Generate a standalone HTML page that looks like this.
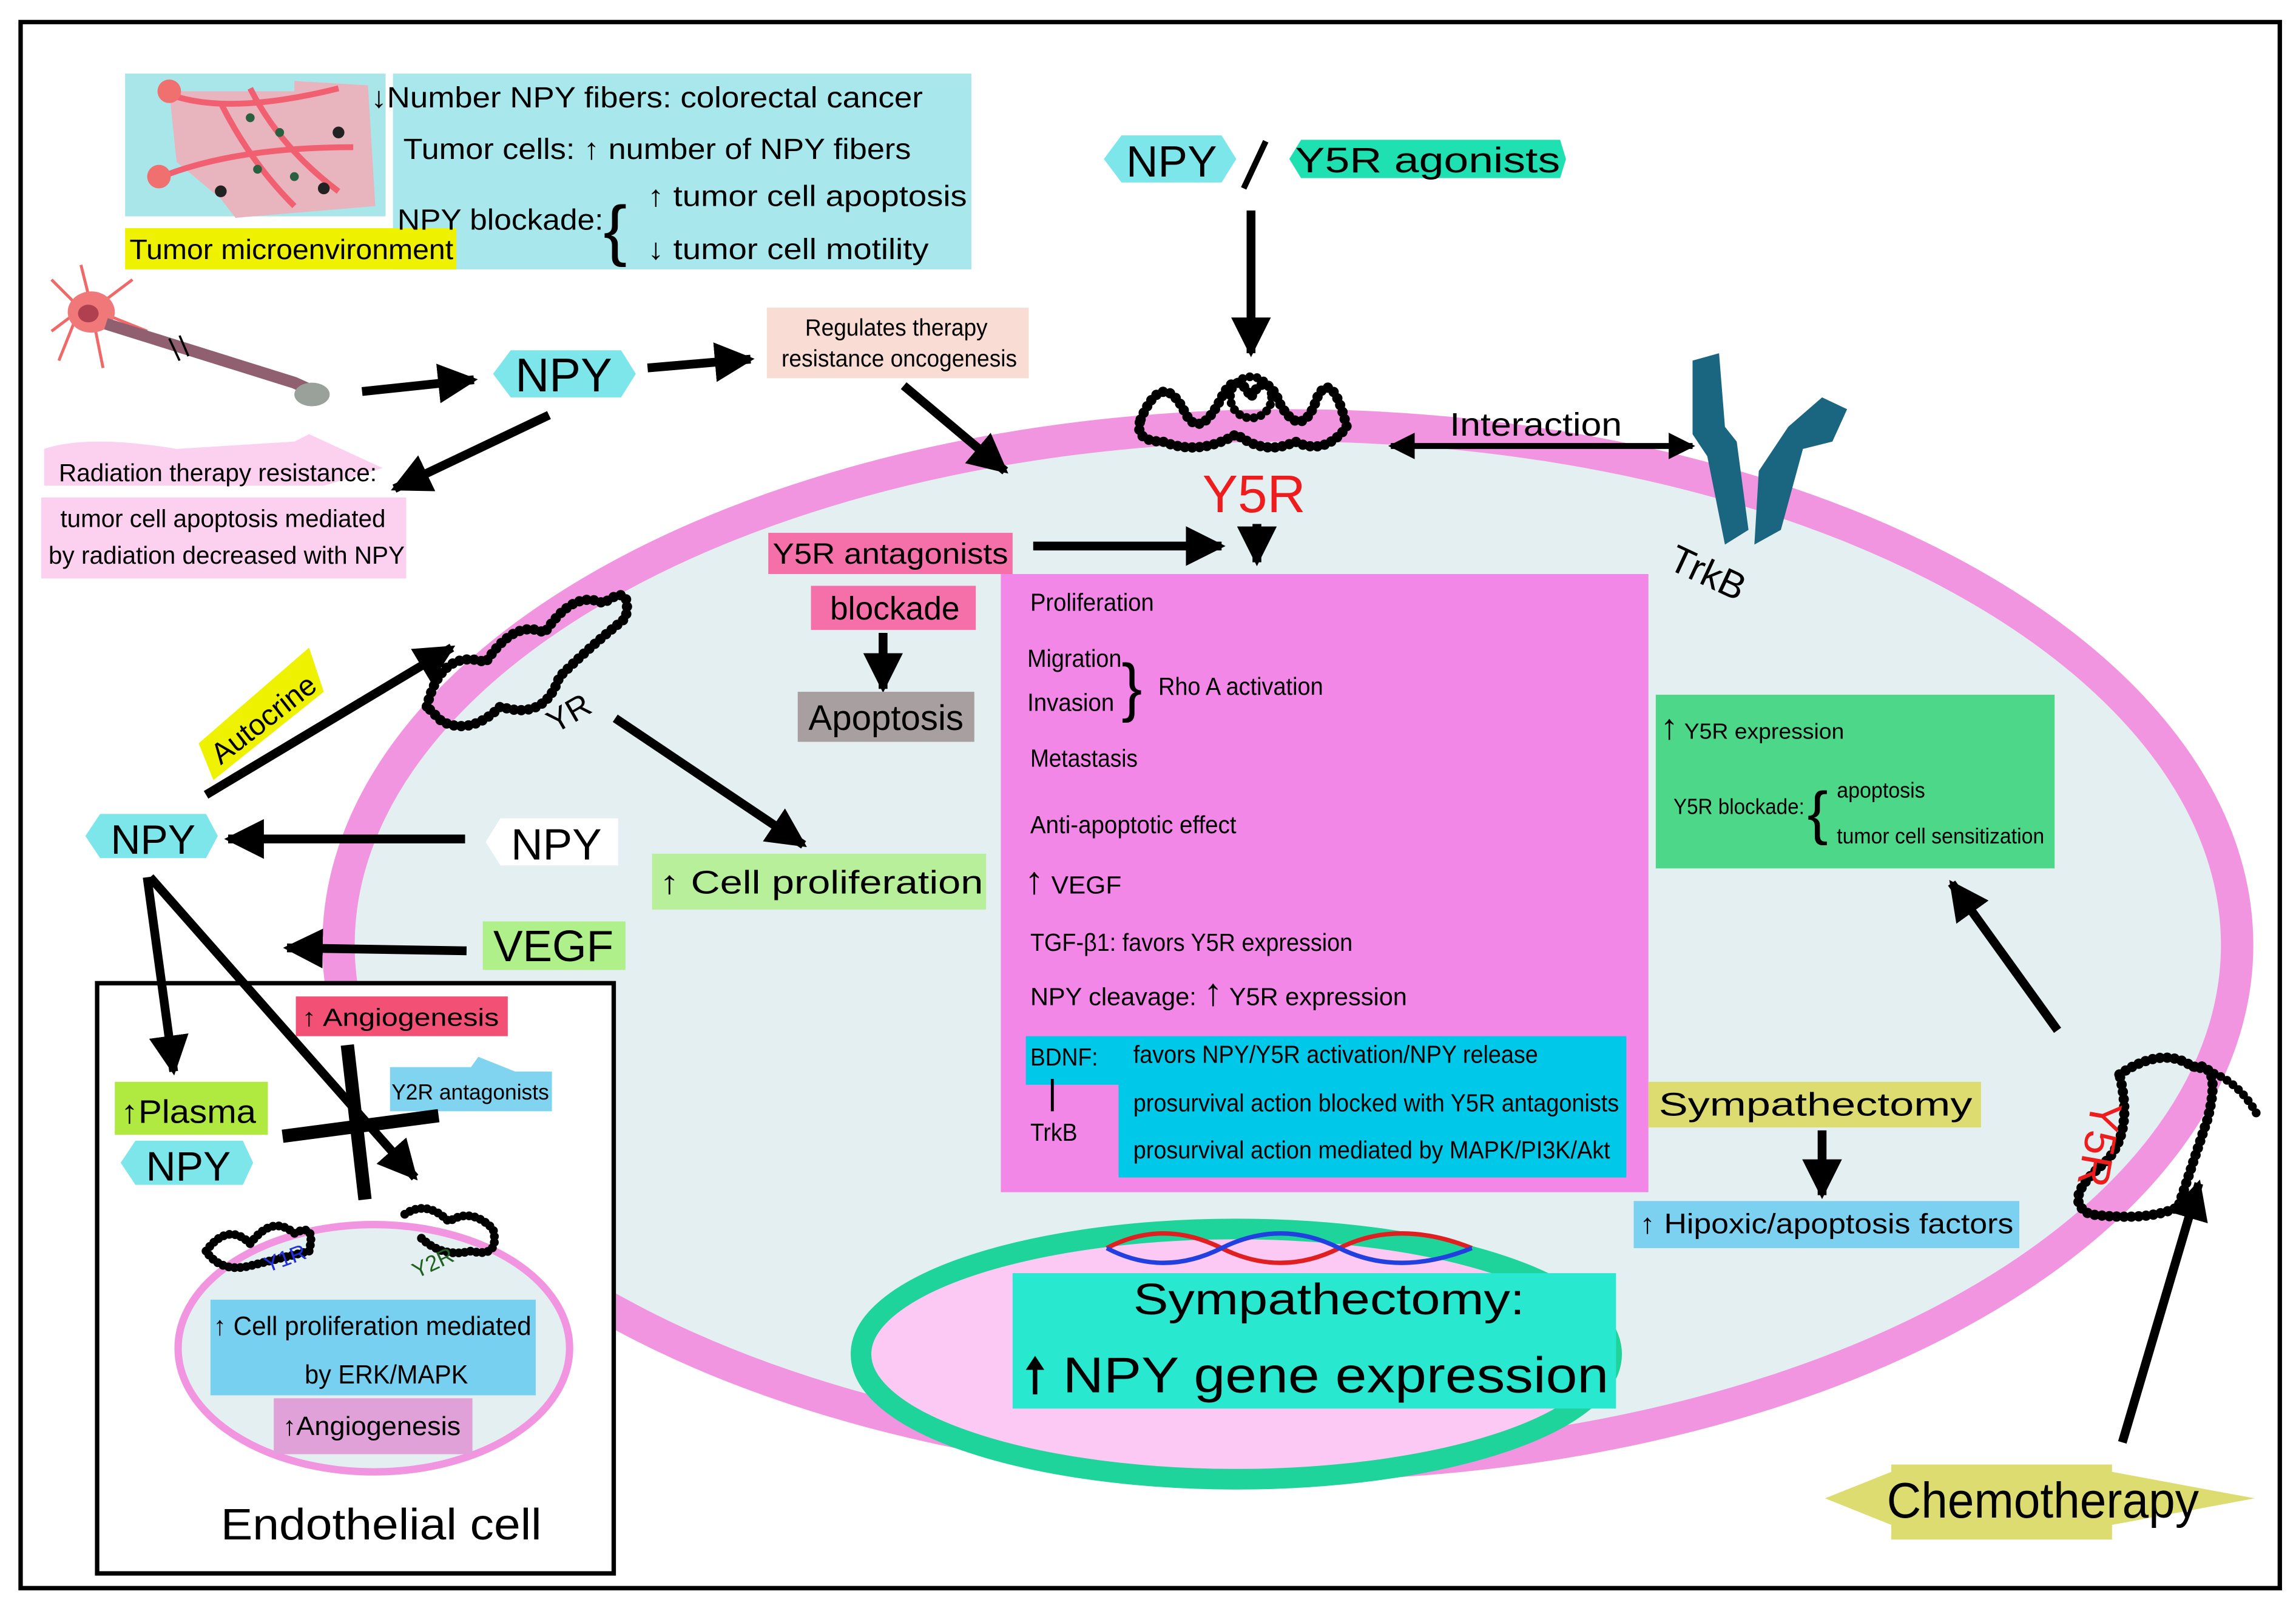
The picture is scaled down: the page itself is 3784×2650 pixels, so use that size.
<!DOCTYPE html>
<html><head><meta charset="utf-8"><style>
html,body{margin:0;padding:0;background:#fff}
svg{display:block}
text{font-family:"Liberation Sans",sans-serif}
</style></head><body>
<svg width="3784" height="2650" viewBox="0 0 1560 1092.5" preserveAspectRatio="none" xmlns="http://www.w3.org/2000/svg">
<defs>
<marker id="a" viewBox="0 0 10 10" refX="9" refY="5" markerWidth="4.5" markerHeight="4.5" orient="auto-start-reverse"><path d="M0,0L10,5L0,10z" fill="#000"/></marker>
</defs>
<rect x="14" y="15" width="1535" height="1064" fill="#fff" stroke="#000" stroke-width="3"/>
<ellipse cx="875" cy="642" rx="645" ry="353" fill="#e4eff2" stroke="#f295e0" stroke-width="22"/>
<rect x="85" y="50" width="177" height="97" fill="#a8e6ea"/>
<path d="M115,62 L200,62 L200,55 L250,58 L255,140 L160,148 L150,135 L120,110z" fill="#e8b4be"/>
<path d="M110,62 Q150,80 230,60 M110,120 Q160,100 240,100 M150,70 Q170,110 200,140 M170,60 Q190,100 230,130" stroke="#f06070" stroke-width="4" fill="none"/>
<circle cx="115" cy="62" r="8" fill="#f07070"/><circle cx="108" cy="120" r="8" fill="#f07070"/>
<g fill="#2a6040"><circle cx="170" cy="80" r="3"/><circle cx="190" cy="90" r="3"/><circle cx="175" cy="115" r="3"/><circle cx="200" cy="120" r="3"/></g>
<g fill="#222"><circle cx="230" cy="90" r="4"/><circle cx="220" cy="128" r="4"/><circle cx="150" cy="130" r="4"/></g>
<rect x="267" y="50" width="393" height="133" fill="#a8e8ec"/>
<rect x="85" y="155" width="225" height="28" fill="#eef200"/>
<g lengthAdjust="spacingAndGlyphs">
<text x="88" y="176" font-size="19" textLength="220" lengthAdjust="spacingAndGlyphs">Tumor microenvironment</text>
<text x="252" y="73" font-size="20" textLength="375" lengthAdjust="spacingAndGlyphs">↓Number NPY fibers: colorectal cancer</text>
<text x="274" y="108" font-size="20" textLength="345" lengthAdjust="spacingAndGlyphs">Tumor cells: ↑ number of NPY fibers</text>
<text x="270" y="156" font-size="20" textLength="140" lengthAdjust="spacingAndGlyphs">NPY blockade:</text>
<text x="410" y="172" font-size="46" textLength="16" lengthAdjust="spacingAndGlyphs">{</text>
<text x="440" y="140" font-size="20" textLength="217" lengthAdjust="spacingAndGlyphs">↑ tumor cell apoptosis</text>
<text x="440" y="176" font-size="20" textLength="191" lengthAdjust="spacingAndGlyphs">↓ tumor cell motility</text>
</g>
<g stroke="#f06868" stroke-width="2" fill="none">
<path d="M55,210 L35,190 M55,210 L35,225 M60,200 L55,180 M70,205 L90,190 M50,220 L40,245 M65,225 L70,250 M75,215 L100,225"/></g>
<ellipse cx="62" cy="212" rx="16" ry="14" fill="#f07878"/>
<ellipse cx="60" cy="213" rx="7" ry="6" fill="#b04050"/>
<path d="M72,220 L200,260 L222,270" stroke="#906070" stroke-width="8" fill="none"/>
<path d="M115,230 L122,245 M122,228 L128,242" stroke="#000" stroke-width="1.5"/>
<ellipse cx="212" cy="268" rx="12" ry="8" fill="#9aa09a"/>
<polygon points="335,254 347,238 422,238 432,254 422,270 347,270" fill="#7de6ea"/>
<text x="383" y="266" font-size="32" text-anchor="middle">NPY</text>
<g stroke="#000" stroke-width="6" marker-end="url(#a)">
<line x1="246" y1="266" x2="322" y2="258"/>
<line x1="440" y1="250" x2="510" y2="244"/>
<line x1="373" y1="282" x2="268" y2="332"/>
<line x1="614" y1="262" x2="683" y2="320"/>
<line x1="850" y1="143" x2="850" y2="240"/>
<line x1="702" y1="371" x2="830" y2="371"/>
<line x1="854" y1="356" x2="854" y2="382"/>
<line x1="600" y1="430" x2="600" y2="468"/>
<line x1="418" y1="488" x2="546" y2="574"/>
<line x1="140" y1="540" x2="307" y2="440"/>
<line x1="316" y1="570" x2="155" y2="570"/>
<line x1="317" y1="646" x2="195" y2="644"/>
<line x1="1398" y1="700" x2="1326" y2="600"/>
<line x1="1238" y1="768" x2="1238" y2="812"/>
<line x1="1442" y1="980" x2="1494" y2="804"/>
</g>
<line x1="945" y1="303" x2="1150" y2="303" stroke="#000" stroke-width="4" marker-end="url(#a)" marker-start="url(#a)"/>
<rect x="521" y="209" width="178" height="48" fill="#f9dcd3"/>
<text x="547" y="228" font-size="16" textLength="124" lengthAdjust="spacingAndGlyphs">Regulates therapy</text>
<text x="531" y="249" font-size="16" textLength="160" lengthAdjust="spacingAndGlyphs">resistance oncogenesis</text>
<path d="M30,305 Q60,295 120,305 L200,300 L210,295 L260,318 L220,330 L30,330z" fill="#fcd0ef"/>
<rect x="28" y="338" width="248" height="55" fill="#fcd0ef"/>
<text x="40" y="327" font-size="17" textLength="216" lengthAdjust="spacingAndGlyphs">Radiation therapy resistance:</text>
<text x="41" y="358" font-size="17" textLength="221" lengthAdjust="spacingAndGlyphs">tumor cell apoptosis mediated</text>
<text x="33" y="383" font-size="17" textLength="242" lengthAdjust="spacingAndGlyphs">by radiation decreased with NPY</text>
<polygon points="750,108 762,92 830,92 840,108 830,124 762,124" fill="#7de6ea"/>
<text x="796" y="120" font-size="30" text-anchor="middle">NPY</text>
<line x1="845" y1="128" x2="860" y2="96" stroke="#000" stroke-width="4"/>
<polygon points="876,108 884,95 1060,95 1064,108 1060,121 884,121" fill="#1ee0b0"/>
<text x="880" y="117" font-size="24" textLength="180" lengthAdjust="spacingAndGlyphs">Y5R agonists</text>
<g stroke="#000" fill="none" stroke-linecap="round">
<path d="M775,285 Q790,250 805,280 Q815,300 830,270 Q840,250 850,270 Q860,250 870,275 Q885,300 895,270 Q905,250 915,290 Q900,310 880,300 Q860,310 840,295 Q815,310 790,300 Q770,300 775,285" stroke-width="7" stroke-dasharray="0 5"/>
<path d="M775,285 Q790,250 805,280 Q815,300 830,270 Q840,250 850,270 Q860,250 870,275 Q885,300 895,270 Q905,250 915,290 Q900,310 880,300 Q860,310 840,295 Q815,310 790,300 Q770,300 775,285" stroke-width="2"/>
<circle cx="850" cy="270" r="14" stroke-width="6" stroke-dasharray="0 5"/>
</g>
<text x="852" y="348" font-size="36" fill="#ee1c1c" text-anchor="middle">Y5R</text>
<text x="985" y="296" font-size="22" textLength="117" lengthAdjust="spacingAndGlyphs">Interaction</text>
<g fill="#1a6680">
<path d="M1150,245 L1168,240 L1172,290 L1180,300 L1188,360 L1172,370 L1160,310 L1150,295z"/>
<path d="M1238,270 L1255,278 L1245,300 L1225,305 L1210,360 L1192,370 L1195,320 L1215,290z"/>
</g>
<text x="1160" y="398" font-size="26" text-anchor="middle" transform="rotate(25 1160 390)">TrkB</text>
<rect x="522" y="362" width="166" height="28" fill="#f570a8"/>
<text x="525" y="383" font-size="20" textLength="160" lengthAdjust="spacingAndGlyphs">Y5R antagonists</text>
<rect x="551" y="398" width="112" height="30" fill="#f570a8"/>
<text x="608" y="421" font-size="22" text-anchor="middle">blockade</text>
<rect x="542" y="470" width="120" height="34" fill="#a8a0a0"/>
<text x="602" y="496" font-size="24" text-anchor="middle">Apoptosis</text>
<rect x="680" y="390" width="440" height="420" fill="#f287e8"/>
<g font-size="17">
<text x="700" y="415" textLength="84" lengthAdjust="spacingAndGlyphs">Proliferation</text>
<text x="698" y="453" textLength="64" lengthAdjust="spacingAndGlyphs">Migration</text>
<text x="698" y="483" textLength="59" lengthAdjust="spacingAndGlyphs">Invasion</text>
<text x="762" y="482" font-size="44" textLength="14" lengthAdjust="spacingAndGlyphs">}</text>
<text x="787" y="472" textLength="112" lengthAdjust="spacingAndGlyphs">Rho A activation</text>
<text x="700" y="521" textLength="73" lengthAdjust="spacingAndGlyphs">Metastasis</text>
<text x="700" y="566" textLength="140" lengthAdjust="spacingAndGlyphs">Anti-apoptotic effect</text>
<text x="696" y="607" textLength="66" lengthAdjust="spacingAndGlyphs"><tspan font-size="26">↑</tspan> VEGF</text>
<text x="700" y="646" textLength="219" lengthAdjust="spacingAndGlyphs">TGF-β1: favors Y5R expression</text>
<text x="700" y="683" textLength="256" lengthAdjust="spacingAndGlyphs">NPY cleavage: <tspan font-size="26">↑</tspan>  Y5R expression</text>
</g>
<rect x="697" y="704" width="63" height="33" fill="#00c8e8"/>
<rect x="760" y="704" width="345" height="96" fill="#00c8e8"/>
<g font-size="17">
<text x="700" y="724" textLength="46" lengthAdjust="spacingAndGlyphs">BDNF:</text>
<line x1="715" y1="733" x2="715" y2="755" stroke="#000" stroke-width="2"/>
<text x="700" y="775" textLength="32" lengthAdjust="spacingAndGlyphs">TrkB</text>
<text x="770" y="722" textLength="275" lengthAdjust="spacingAndGlyphs">favors NPY/Y5R activation/NPY release</text>
<text x="770" y="755" textLength="330" lengthAdjust="spacingAndGlyphs">prosurvival action blocked with Y5R antagonists</text>
<text x="770" y="787" textLength="324" lengthAdjust="spacingAndGlyphs">prosurvival action mediated by MAPK/PI3K/Akt</text>
</g>
<g stroke="#000" fill="none" stroke-linecap="round">
<path d="M290,480 Q300,440 330,450 Q350,420 370,430 Q390,400 410,410 Q430,395 425,420 Q400,440 380,460 Q370,490 340,480 Q320,500 300,490z" stroke-width="7" stroke-dasharray="0 5"/>
<path d="M290,480 Q300,440 330,450 Q350,420 370,430 Q390,400 410,410 Q430,395 425,420 Q400,440 380,460 Q370,490 340,480 Q320,500 300,490z" stroke-width="2"/>
</g>
<text x="372" y="500" font-size="22" transform="rotate(-30 372 490)">YR</text>
<polygon points="135,505 210,440 220,470 145,530" fill="#eef200"/>
<text x="150" y="520" font-size="20" transform="rotate(-38 150 520)">Autocrine</text>
<polygon points="58,568 68,553 140,553 148,568 140,583 68,583" fill="#7de6ea"/>
<text x="104" y="580" font-size="28" text-anchor="middle">NPY</text>
<polygon points="330,572 340,556 420,556 420,588 340,588" fill="#fff"/>
<text x="378" y="584" font-size="30" text-anchor="middle">NPY</text>
<rect x="443" y="580" width="227" height="38" fill="#b8ef9a"/>
<text x="448" y="607" font-size="22" textLength="220" lengthAdjust="spacingAndGlyphs">↑ Cell proliferation</text>
<rect x="328" y="626" width="97" height="33" fill="#b0f08a"/>
<text x="376" y="653" font-size="30" text-anchor="middle">VEGF</text>
<rect x="66" y="668" width="351" height="401" fill="#fff" stroke="#000" stroke-width="3"/>
<g stroke="#000" stroke-width="6" marker-end="url(#a)">
<line x1="100" y1="596" x2="118" y2="728"/>
<line x1="102" y1="596" x2="282" y2="800"/>
</g>
<rect x="201" y="677" width="144" height="27" fill="#f25075"/>
<text x="205" y="697" font-size="17" textLength="134" lengthAdjust="spacingAndGlyphs">↑ Angiogenesis</text>
<polygon points="265,725 320,725 325,718 350,728 375,728 375,755 265,755" fill="#80d4f0"/>
<text x="266" y="747" font-size="15" textLength="107" lengthAdjust="spacingAndGlyphs">Y2R antagonists</text>
<rect x="78" y="735" width="104" height="36" fill="#b0ea40"/>
<text x="82" y="763" font-size="22" textLength="92" lengthAdjust="spacingAndGlyphs">↑Plasma</text>
<polygon points="82,790 92,775 165,775 172,790 165,805 92,805" fill="#7de6ea"/>
<text x="128" y="802" font-size="28" text-anchor="middle">NPY</text>
<g stroke="#000" stroke-width="9"><line x1="236" y1="710" x2="248" y2="815"/><line x1="192" y1="772" x2="298" y2="758"/></g>
<ellipse cx="254" cy="916" rx="133" ry="84" fill="#e4eff2" stroke="#f295e0" stroke-width="5"/>
<g stroke="#000" fill="none" stroke-width="6" stroke-linecap="round" stroke-dasharray="0 4">
<path d="M140,850 Q155,830 170,845 Q185,825 200,838 Q215,830 210,850 Q190,855 170,860 Q150,865 140,850"/>
<path d="M275,825 Q290,815 305,830 Q320,820 335,835 Q340,855 320,850 Q300,855 285,840"/>
</g>
<text x="180" y="865" font-size="15" fill="#2030e0" transform="rotate(-20 180 860)">Y1R</text>
<text x="280" y="865" font-size="15" fill="#206020" transform="rotate(-25 290 860)">Y2R</text>
<rect x="143" y="883" width="221" height="65" fill="#78d0f0"/>
<text x="145" y="907" font-size="18" textLength="216" lengthAdjust="spacingAndGlyphs">↑ Cell proliferation mediated</text>
<text x="207" y="940" font-size="18" textLength="111" lengthAdjust="spacingAndGlyphs">by ERK/MAPK</text>
<rect x="186" y="950" width="135" height="38" fill="#e0a0d8"/>
<text x="192" y="975" font-size="18" textLength="121" lengthAdjust="spacingAndGlyphs">↑Angiogenesis</text>
<text x="150" y="1046" font-size="30" textLength="218" lengthAdjust="spacingAndGlyphs">Endothelial cell</text>
<ellipse cx="840" cy="920" rx="255" ry="85" fill="#fcc8f4" stroke="#1ed49a" stroke-width="14"/>
<g stroke-width="3" fill="none">
<path d="M752,848 Q790,828 830,848 T910,848 T1000,848" stroke="#e02020"/>
<path d="M752,848 Q790,868 830,848 T910,848 T1000,848" stroke="#2040e0"/>
</g>
<rect x="688" y="865" width="410" height="92" fill="#28e8d0"/>
<text x="770" y="893" font-size="30" textLength="266" lengthAdjust="spacingAndGlyphs">Sympathectomy:</text>
<text x="695" y="946" font-size="34" textLength="398" lengthAdjust="spacingAndGlyphs">🠕 NPY gene expression</text>
<rect x="1125" y="472" width="271" height="118" fill="#4cd888"/>
<g font-size="15">
<text x="1128" y="502" textLength="125" lengthAdjust="spacingAndGlyphs"><tspan font-size="24">↑</tspan>  Y5R expression</text>
<text x="1137" y="553" textLength="89" lengthAdjust="spacingAndGlyphs">Y5R blockade:</text>
<text x="1228" y="566" font-size="40" textLength="14" lengthAdjust="spacingAndGlyphs">{</text>
<text x="1248" y="542" textLength="60" lengthAdjust="spacingAndGlyphs">apoptosis</text>
<text x="1248" y="573" textLength="141" lengthAdjust="spacingAndGlyphs">tumor cell sensitization</text>
</g>
<rect x="1120" y="735" width="226" height="31" fill="#dcdc70"/>
<text x="1127" y="758" font-size="22" textLength="213" lengthAdjust="spacingAndGlyphs">Sympathectomy</text>
<rect x="1110" y="816" width="262" height="32" fill="#7cd0f0"/>
<text x="1114" y="838" font-size="19" textLength="254" lengthAdjust="spacingAndGlyphs">↑ Hipoxic/apoptosis factors</text>
<g stroke="#000" fill="none" stroke-linecap="round">
<path d="M1440,730 Q1470,710 1490,725 Q1510,720 1500,760 Q1490,790 1480,820 Q1460,830 1420,825 Q1400,815 1430,790 Q1450,770 1440,730" stroke-width="7" stroke-dasharray="0 5"/>
<path d="M1490,725 Q1520,730 1535,760" stroke-width="6" stroke-dasharray="0 5"/>
</g>
<text x="1400" y="745" font-size="30" fill="#ee1c1c" transform="rotate(100 1410 755)">Y5R</text>
<polygon points="1240,1018 1285,1000 1285,995 1435,995 1435,1000 1532,1018 1435,1036 1435,1046 1285,1046 1285,1036" fill="#dcdc70"/>
<text x="1282" y="1031" font-size="34" textLength="212" lengthAdjust="spacingAndGlyphs">Chemotherapy</text>
</svg>
</body></html>
